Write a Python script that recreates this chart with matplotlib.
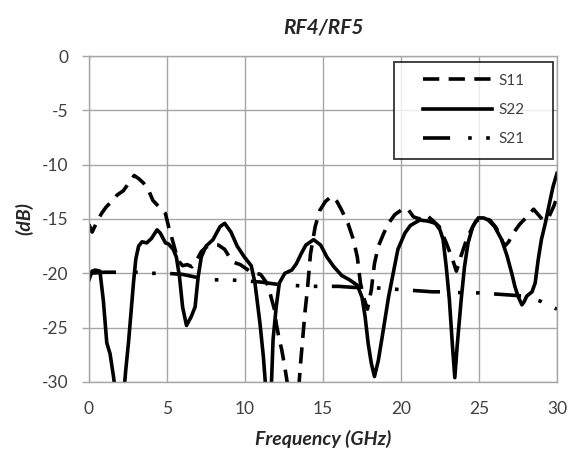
import matplotlib
matplotlib.use("Agg")
import matplotlib.pyplot as plt
from matplotlib.legend_handler import HandlerLine2D

plt.rcParams['font.family'] = ['Lato', 'DejaVu Sans']

# ---- data ----
s11_f = [0.0, 0.2, 0.5, 0.8, 1.1, 1.5, 1.8, 2.2, 2.6, 2.9, 3.2, 3.5, 3.8, 4.1, 4.5, 4.9,
         5.1, 5.4, 5.7, 6.0, 6.3, 6.6, 6.9, 7.2, 7.5, 7.9, 8.3, 8.7, 9.0, 9.3, 9.7, 10.0,
         10.3, 10.7, 11.0, 11.4, 11.6, 11.9, 12.0, 12.2, 12.35, 12.55, 12.7, 12.9, 13.2,
         13.45, 13.55, 13.7, 13.85, 14.0, 14.2, 14.5, 14.8, 15.15, 15.55, 15.9, 16.2, 16.6,
         16.95, 17.2, 17.4, 17.6, 17.85, 18.1, 18.3, 18.55, 18.9, 19.2, 19.6, 20.0, 20.4,
         20.8, 21.2, 21.6, 22.0, 22.45, 22.9, 23.3, 23.55, 23.85, 24.2, 24.5, 24.8, 25.25,
         25.7, 26.1, 26.45, 26.65, 26.9, 27.2, 27.6, 28.2, 28.5, 28.8, 29.1, 29.45, 29.8, 30.0]
s11_db = [-15.5, -16.2, -15.3, -14.5, -13.9, -13.3, -12.8, -12.4, -11.6, -11.0, -11.3, -11.7,
          -12.3, -13.3, -13.9, -14.5, -15.7, -17.2, -18.8, -19.3, -19.2, -19.4, -18.8, -18.0,
          -17.6, -17.4, -17.4, -17.8, -18.5, -19.0, -19.2, -19.5, -19.8, -20.0, -20.1, -20.9,
          -21.8, -23.4, -24.6, -26.1, -27.0, -28.6, -30.0, -31.5, -32.0, -30.5, -28.5, -26.0,
          -23.5, -21.5, -18.2, -15.7, -14.2, -13.4, -12.9, -13.4, -14.2, -15.4, -16.9, -18.5,
          -20.9, -22.2, -23.3, -21.5, -19.1, -17.5, -16.3, -15.4, -14.6, -14.2, -14.0, -14.8,
          -15.0, -14.6, -15.1, -15.7, -17.2, -18.7, -19.8, -18.4, -16.9, -16.0, -15.2, -14.9,
          -15.1, -15.8, -16.9, -17.5, -17.1, -16.3, -15.5, -14.6, -14.1, -14.6, -15.1, -14.9,
          -13.8, -13.0]

s22_f = [0.0, 0.2, 0.4, 0.7, 0.92, 1.14, 1.35, 1.57, 1.75, 2.0, 2.2, 2.35, 2.53, 2.7, 2.85,
         3.0, 3.18, 3.4, 3.7, 4.0, 4.36, 4.57, 4.9, 5.1, 5.4, 5.6, 5.8, 6.0, 6.25, 6.55, 6.8,
         7.0, 7.2, 7.5, 7.95, 8.4, 8.7, 9.1, 9.5, 9.96, 10.4, 10.64, 10.96, 11.18, 11.3, 11.5,
         11.7, 11.8, 12.0, 12.2, 12.55, 13.0, 13.3, 13.6, 13.9, 14.4, 14.85, 15.25, 15.7, 16.2,
         16.7, 17.2, 17.5, 17.7, 17.9, 18.1, 18.3, 18.55, 18.8, 19.0, 19.2, 19.5, 19.8, 20.25,
         20.6, 21.2, 21.75, 22.2, 22.5, 22.7, 22.9, 23.1, 23.3, 23.45, 23.6, 23.86, 24.07, 24.3,
         24.6, 24.95, 25.3, 25.6, 26.0, 26.45, 26.8, 27.1, 27.3, 27.5, 27.75, 27.9, 28.06, 28.4,
         28.6, 28.8, 29.0, 29.25, 29.57, 29.75, 30.0]
s22_db = [-20.6, -19.8, -19.7, -19.8, -22.5, -26.4, -27.4, -29.5, -31.5, -33.0, -31.5, -29.0,
          -26.4, -23.5, -20.9, -18.7, -17.5, -17.1, -17.2, -16.8, -16.0, -16.3, -17.2, -17.3,
          -17.8, -18.5, -20.3, -23.1, -24.8, -24.0, -23.1, -20.3, -18.5, -17.5, -16.9, -15.7,
          -15.4, -16.2, -17.5, -18.5, -19.3, -20.9, -24.6, -27.7, -30.0, -32.0, -30.0, -26.1,
          -23.1, -20.9, -20.0, -19.7, -19.1, -18.2, -17.4, -16.9, -17.4, -18.5, -19.4, -20.2,
          -20.6, -21.1, -22.2, -24.0, -26.5, -28.3, -29.5, -28.0, -25.8, -24.0, -22.2, -20.0,
          -17.8, -16.3, -15.6, -15.1, -15.2, -15.4, -16.0, -16.9, -19.4, -22.4, -26.7, -29.6,
          -26.7, -22.4, -19.4, -17.2, -15.7, -14.9, -14.9, -15.1, -15.7, -16.9, -18.4, -20.0,
          -21.2, -22.1, -22.9, -22.6, -22.1, -21.7, -20.9, -18.7, -16.9, -15.4, -13.2, -12.0,
          -10.8]

s21_f = [0, 1, 2, 3, 4, 5, 6, 7, 8, 9, 10, 11, 12, 13, 14, 15, 16, 17, 18, 19, 20, 21, 22,
         23, 24, 25, 26, 27, 28, 29, 30]
s21_db = [-20.0, -19.9, -19.9, -19.9, -20.0, -20.0, -20.1, -20.4, -20.6, -20.6, -20.7, -20.8,
          -21.0, -21.1, -21.2, -21.2, -21.2, -21.3, -21.3, -21.4, -21.5, -21.6, -21.7, -21.7,
          -21.8, -21.8, -21.9, -22.0, -22.1, -22.6, -23.3]

series_labels = ["S11", "S22", "S21"]
x_ticks = [0, 5, 10, 15, 20, 25, 30]
y_ticks = [0, -5, -10, -15, -20, -25, -30]
title = "RF4/RF5"
x_label = "Frequency (GHz)"
y_label = "(dB)"

# ---- figure ----
fig = plt.figure(figsize=(5.76, 4.58), dpi=100)
ax = fig.add_axes([0.1545, 0.166, 0.8125, 0.7117])

lw = 2.6
grid_c = "#a6a6a6"
text_c = "#404040"

ax.plot(s11_f, s11_db, color="black", lw=lw, ls=(0, (4.5, 2.6)), label=series_labels[0])
ax.plot(s22_f, s22_db, color="black", lw=lw, ls="-", label=series_labels[1])
ax.plot(s21_f, s21_db, color="black", lw=lw, ls=(0, (7.5, 5.0, 1.0, 4.0, 1.0, 4.0)),
        label=series_labels[2])

ax.set_xlim(0, 30)
ax.set_ylim(-30, 0)
ax.set_xticks(x_ticks)
ax.set_yticks(y_ticks)
ax.set_xticklabels([str(t) for t in x_ticks])
ax.set_yticklabels([str(t) for t in y_ticks])
ax.grid(True, color=grid_c, lw=1.0)
ax.set_axisbelow(True)
for s in ax.spines.values():
    s.set_color(grid_c)
    s.set_linewidth(1.0)
ax.tick_params(axis="x", length=0, pad=14, labelsize=12.5, labelcolor=text_c)
ax.tick_params(axis="y", length=5, width=1.0, color=grid_c, pad=10, labelsize=12.5,
               labelcolor=text_c)

ax.set_title(title, fontsize=15, fontweight="bold", fontstyle="italic", color="#262626", pad=16)
ax.set_xlabel(x_label, fontsize=14, fontweight="bold", fontstyle="italic", color="#262626",
              labelpad=9)
ax.set_ylabel(y_label, fontsize=14, fontweight="bold", fontstyle="italic", color="#262626",
              labelpad=6)

leg = ax.legend(loc="upper left", bbox_to_anchor=(0.651, 0.983, 0.34, 0.0), mode="expand",
                fontsize=11, frameon=True, fancybox=False, edgecolor="black",
                borderpad=0.8, labelspacing=1.0, handlelength=5.65, handletextpad=0.4,
                borderaxespad=0.0,
                handler_map={plt.Line2D: HandlerLine2D(xpad=1.1)})
leg.get_frame().set_linewidth(1.3)
for t in leg.get_texts():
    t.set_color(text_c)

fig.savefig("out.png", dpi=100)
